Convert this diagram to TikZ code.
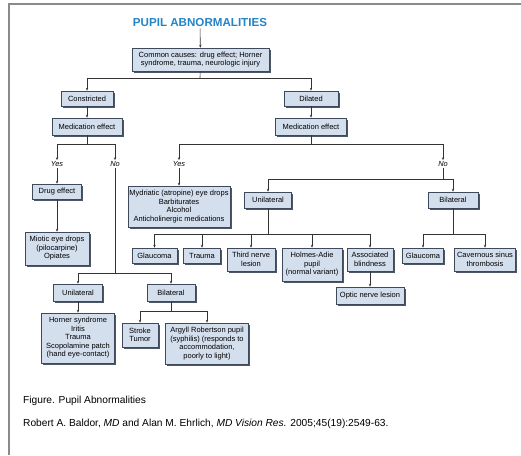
\documentclass[tikz,border=0pt]{standalone}
\usepackage{fontspec}
\setmainfont{Liberation Sans}
\usetikzlibrary{arrows.meta, shadows}

\definecolor{boxfill}{HTML}{D4DFEE}
\definecolor{boxline}{HTML}{3E4A5C}
\definecolor{boxshade}{HTML}{4D5766}
\definecolor{titleblue}{HTML}{2384C6}
\definecolor{wire}{HTML}{333333}
\definecolor{frame}{HTML}{8A8A8A}

\tikzset{
  box/.style={draw=boxline, fill=boxfill, line width=0.5pt, align=center,
    inner sep=1pt, font=\fontsize{7.5}{8.5}\selectfont,
    drop shadow={shadow xshift=1.6pt, shadow yshift=-1.6pt,
      fill=boxshade, opacity=1}},
  answer/.style={font=\fontsize{7.4}{8}\selectfont\itshape, inner sep=1pt},
  link/.style={draw=wire, line width=0.6pt},
  caption/.style={anchor=west, inner sep=0pt, font=\fontsize{10.2}{12}\selectfont},
}

\begin{document}
\begin{tikzpicture}[x=1pt, y=-1pt, >={Stealth[length=3pt, width=2.4pt]},
    line cap=butt, line join=miter]

    % ── page area and frame ──────────────────────────────────────────────────
    \useasboundingbox (0,0) rectangle (521,455);
    \draw[frame, line width=1.3pt] (9,455) -- (9,4) -- (521,4);

    % ── title and common causes ──────────────────────────────────────────────
    \node[inner sep=1pt] (title) at (200,23)
        {\fontsize{11.6}{13}\selectfont\bfseries\color{titleblue}PUPIL ABNORMALITIES};
    \node[box, minimum width=137, minimum height=23] (causes) at (200.5,59.5)
        {Common causes: drug effect; Horner\\syndrome, trauma, neurologic injury};
    \coordinate (split) at (200,78);

    \node[box, minimum width=52, minimum height=15] (constricted) at (87,98.5) {Constricted};
    \node[box, minimum width=54, minimum height=15] (dilated) at (311,98.5) {Dilated};

    % ── constricted branch ───────────────────────────────────────────────────
    \node[box, minimum width=70, minimum height=17] (medc) at (87,126.5) {Medication effect};
    \coordinate (medcsplit) at (87,144);
    \node[answer] (cyes) at (57,164) {Yes};
    \node[answer] (cno) at (115,164) {No};

    \node[box, minimum width=49, minimum height=15] (drug) at (57,191.5) {Drug effect};
    \node[box, minimum width=64, minimum height=33] (miotic) at (57,248.5)
        {Miotic eye drops\\(pilocarpine)\\Opiates};

    \coordinate (cnosplit) at (115,273);
    \node[box, minimum width=49, minimum height=17] (cuni) at (78,292.5) {Unilateral};
    \node[box, minimum width=48, minimum height=17] (cbi) at (171,292.5) {Bilateral};
    \node[box, minimum width=73, minimum height=50] (horner) at (78,338)
        {Horner syndrome\\Iritis\\Trauma\\Scopolamine patch\\(hand eye-contact)};
    \coordinate (cbisplit) at (171,311);
    \node[box, minimum width=36, minimum height=24] (stroke) at (140,335) {Stroke\\Tumor};
    \node[box, minimum width=83, minimum height=41] (argyll) at (207,343.5)
        {Argyll Robertson pupil\\(syphilis) (responds to\\accommodation,\\poorly to light)};

    % ── dilated branch ───────────────────────────────────────────────────────
    \node[box, minimum width=71, minimum height=17] (medd) at (311,126.5) {Medication effect};
    \coordinate (meddsplit) at (311,144);
    \node[answer] (dyes) at (179,164) {Yes};
    \node[answer] (dno) at (443,164) {No};

    \node[box, minimum width=102, minimum height=41] (mydriatic) at (179,206.5)
        {Mydriatic (atropine) eye drops\\Barbiturates\\Alcohol\\Anticholinergic medications};

    \coordinate (dnosplit) at (443,179);
    \node[box, minimum width=47, minimum height=16] (duni) at (268,200) {Unilateral};
    \node[box, minimum width=50, minimum height=16] (dbi) at (453,200) {Bilateral};

    \coordinate (dunisplit) at (268,234);
    \node[box, minimum width=45, minimum height=15] (glaucuni) at (154.5,255.5) {Glaucoma};
    \node[box, minimum width=37, minimum height=15] (trauma) at (202,255.5) {Trauma};
    \node[box, minimum width=48, minimum height=23] (third) at (251,259.5) {Third nerve\\lesion};
    \node[box, minimum width=60, minimum height=33] (holmes) at (312,264.5)
        {Holmes-Adie\\pupil\\(normal variant)};
    \node[box, minimum width=46, minimum height=23] (blind) at (370,259.5) {Associated\\blindness};
    \node[box, minimum width=68, minimum height=17] (optic) at (370,295.5) {Optic nerve lesion};

    \coordinate (dbisplit) at (453,234);
    \node[box, minimum width=41, minimum height=15] (glaucbi) at (423,255.5) {Glaucoma};
    \node[box, minimum width=61, minimum height=23] (sinus) at (485,259.5)
        {Cavernous sinus\\thrombosis};

    % ── connectors ───────────────────────────────────────────────────────────
    \draw[link, ->] (title) -- (causes);
    \draw[link] (causes) -- (split);
    \draw[link, ->] (split) -| (constricted);
    \draw[link, ->] (split) -| (dilated);

    \draw[link, ->] (constricted) -- (medc);
    \draw[link] (medc) -- (medcsplit);
    \draw[link, ->] (medcsplit) -| (cyes);
    \draw[link, ->] (medcsplit) -| (cno);
    \draw[link, ->] (cyes) -- (drug);
    \draw[link, ->] (drug) -- (miotic);
    \draw[link] (cno) -- (cnosplit);
    \draw[link, ->] (cnosplit) -| (cuni);
    \draw[link, ->] (cnosplit) -| (cbi);
    \draw[link, ->] (cuni) -- (horner);
    \draw[link] (cbi) -- (cbisplit);
    \draw[link, ->] (cbisplit) -| (stroke);
    \draw[link, ->] (cbisplit) -| (argyll);

    \draw[link, ->] (dilated) -- (medd);
    \draw[link] (medd) -- (meddsplit);
    \draw[link, ->] (meddsplit) -| (dyes);
    \draw[link, ->] (meddsplit) -| (dno);
    \draw[link, ->] (dyes) -- (mydriatic);
    \draw[link] (dno) -- (dnosplit);
    \draw[link, ->] (dnosplit) -| (duni);
    \draw[link, ->] (dnosplit) -| (dbi);
    \draw[link] (duni) -- (dunisplit);
    \foreach \leaf in {glaucuni, trauma, third, holmes, blind}
        \draw[link, ->] (dunisplit) -| (\leaf);
    \draw[link, ->] (blind) -- (optic);
    \draw[link] (dbi) -- (dbisplit);
    \draw[link, ->] (dbisplit) -| (glaucbi);
    \draw[link, ->] (dbisplit) -| (sinus);

    % ── caption ──────────────────────────────────────────────────────────────
    \node[caption] (figcap) at (23,401) {Figure. Pupil Abnormalities};
    \node[caption] (source) at (23,424)
        {Robert A. Baldor, \textit{MD} and Alan M. Ehrlich, \textit{MD} \textit{Vision Res.} 2005;45(19):2549-63.};

\end{tikzpicture}
\end{document}
